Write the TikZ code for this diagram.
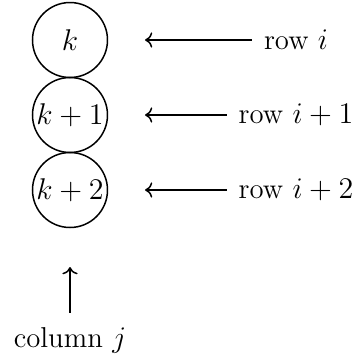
\documentclass[tikz,border=0pt]{standalone}
\usepackage{amsmath,amssymb}
\usepackage{tikz}
\usetikzlibrary{arrows.meta,positioning}
\tikzset{
  entry/.style = {draw, circle, minimum size=30pt, inner sep=0pt},
  rowlab/.style = {inner sep=0pt},
  pointer/.style = {<-, semithick},
}

\begin{document}
\begin{tikzpicture}[x=0.4pt,y=0.4pt,font=\fontsize{11.5}{14}\selectfont,semithick]
 \useasboundingbox (0,0) rectangle (353,-363);
 % entries of the column
 \node[entry] (e0) at (70,-40)  {$k$};
 \node[entry] (e1) at (70,-115) {$k+1$};
 \node[entry] (e2) at (70,-190) {$k+2$};
 % row labels
 \foreach \k/\lab/\y in {0/{row $i$}/-40, 1/{row $i+1$}/-115, 2/{row $i+2$}/-190}{
   \node[rowlab] (r\k) at (296,\y) {\lab};
   \coordinate (p\k) at (145,\y);
   \draw[pointer] (p\k) -- ([xshift=-11*0.4pt]r\k.west);}
 % column label
 \node (col) at (70,-340) {column $j$};
 \coordinate (c) at (70,-267);
 \draw[pointer] (c) -- ([yshift=2pt]col.north);
\end{tikzpicture}
\end{document}
